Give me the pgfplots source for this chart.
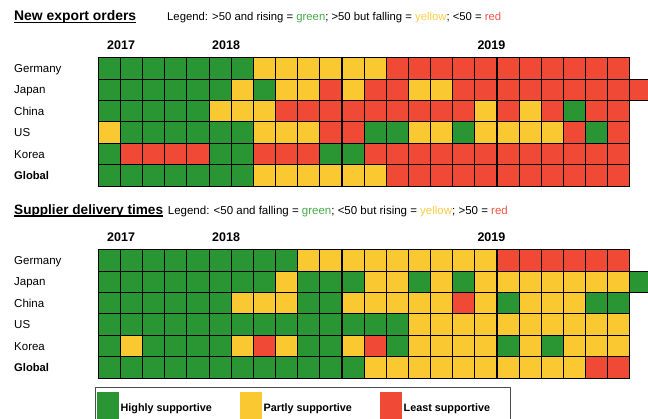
\documentclass[border=0pt]{standalone}
\usepackage{pgfplots}
\pgfplotsset{compat=1.18}
\usepackage{pgfplotstable}
\usepackage{fontspec}
\setmainfont{Liberation Sans}
\definecolor{cg}{RGB}{41,150,51}
\definecolor{cy}{RGB}{250,201,50}
\definecolor{cr}{RGB}{240,73,53}
\definecolor{tg}{RGB}{70,170,70}
\definecolor{ty}{RGB}{250,205,70}
\definecolor{tr}{RGB}{240,85,70}
\pgfdeclareplotmark{cell}{\pgfpathrectangle{\pgfqpoint{-11.075pt}{-10.7pt}}{\pgfqpoint{22.15pt}{21.4pt}}\pgfusepathqfillstroke}
\newcommand\ttl[1]{\setbox0\hbox{#1}\rlap{\rule[-2.3pt]{\wd0}{1.3pt}}\box0}
\tikzset{
  lab/.style={anchor=base west, inner sep=0pt, font=\fontsize{11.5}{13}\selectfont},
  yrlab/.style={anchor=base west, inner sep=0pt, font=\bfseries\fontsize{12.5}{14}\selectfont},
  glab/.style={anchor=base west, inner sep=0pt, font=\bfseries\fontsize{11.2}{13}\selectfont},
}

% New export orders: g = >50 and rising, y = >50 but falling, r = <50
\pgfplotstableread{
col Germany Japan China US Korea Global
0  g g g y g g
1  g g g g r g
2  g g g g r g
3  g g g g r g
4  g g g g r g
5  g g y g g g
6  g y y g g g
7  y g y y r y
8  y y r y r y
9  y y r y r y
10 y r r r g y
11 y y r r g y
12 y r r g r y
13 r r r g r r
14 r y r y r r
15 r y r y r r
16 r r r g r r
17 r r y y r r
18 r r r y r r
19 r r y y r r
20 r r r y r r
21 r r g r r r
22 r r r g r r
23 r r r r r r
}\exporttab

% Supplier delivery times: g = <50 and falling, y = <50 but rising, r = >50
\pgfplotstableread{
col Germany Japan China US Korea Global
0  g g g g g g
1  g g g g y g
2  g g g g g g
3  g g g g g g
4  g g g g g g
5  g g g g g g
6  g g y g y g
7  g g y g r g
8  g y y g y g
9  y g g g g g
10 y g g g g g
11 y g y g y g
12 y y y g r y
13 y y y g g y
14 y g y y y y
15 y y y y y y
16 y g r y y y
17 y y y y y y
18 r y g y g y
19 r y y y y y
20 r y y y g y
21 r y y y y y
22 r y g y y r
23 r y g y y r
}\supplytab

\pgfplotstableread{
col c
24 r
}\exportextra
\pgfplotstableread{
col c
24 g
}\supplyextra

\begin{document}
\begin{tikzpicture}
\useasboundingbox (0,0) rectangle (648pt,418pt);
\begin{axis}[at={(0,0)}, anchor=south west, scale only axis,
  width=648pt, height=418pt, xmin=0, xmax=648, ymin=0, ymax=418,
  y dir=reverse, hide axis, clip=false,
  scatter/classes={
    g={mark=cell, fill=cg, draw=black, line width=1.1pt},
    y={mark=cell, fill=cy, draw=black, line width=1.1pt},
    r={mark=cell, fill=cr, draw=black, line width=1.1pt}},
  cells/.style={scatter, only marks, scatter src=explicit symbolic, forget plot},
  yr/.style={black, line width=2.6pt, forget plot},
  legend style={at={(axis cs:94.7,387)}, anchor=north west, draw=black!70,
    line width=0.9pt, fill=white, legend columns=3, inner xsep=2.2pt, inner ysep=4.6pt,
    font=\bfseries\fontsize{10.8}{12}\selectfont,
    /tikz/every even column/.append style={column sep=26.5pt}},
  legend cell align=left,
]
% ---- New export orders ----
\addplot[cells] table[x expr={98.3+22.15*(\thisrow{col}+0.5)}, y expr={68.4}, meta=Germany] {\exporttab};
\addplot[cells] table[x expr={98.3+22.15*(\thisrow{col}+0.5)}, y expr={89.8}, meta=Japan] {\exporttab};
\addplot[cells] table[x expr={98.3+22.15*(\thisrow{col}+0.5)}, y expr={89.8}, meta=c] {\exportextra};
\addplot[cells] table[x expr={98.3+22.15*(\thisrow{col}+0.5)}, y expr={111.2}, meta=China] {\exporttab};
\addplot[cells] table[x expr={98.3+22.15*(\thisrow{col}+0.5)}, y expr={132.6}, meta=US] {\exporttab};
\addplot[cells] table[x expr={98.3+22.15*(\thisrow{col}+0.5)}, y expr={154.0}, meta=Korea] {\exporttab};
\addplot[cells] table[x expr={98.3+22.15*(\thisrow{col}+0.5)}, y expr={175.4}, meta=Global] {\exporttab};
\addplot[yr] coordinates {(209.05,57.7) (209.05,186.1)};
\addplot[yr] coordinates {(474.85,57.7) (474.85,186.1)};
% ---- Supplier delivery times ----
\addplot[cells] table[x expr={98.3+22.15*(\thisrow{col}+0.5)}, y expr={260.4}, meta=Germany] {\supplytab};
\addplot[cells] table[x expr={98.3+22.15*(\thisrow{col}+0.5)}, y expr={281.8}, meta=Japan] {\supplytab};
\addplot[cells] table[x expr={98.3+22.15*(\thisrow{col}+0.5)}, y expr={281.8}, meta=c] {\supplyextra};
\addplot[cells] table[x expr={98.3+22.15*(\thisrow{col}+0.5)}, y expr={303.2}, meta=China] {\supplytab};
\addplot[cells] table[x expr={98.3+22.15*(\thisrow{col}+0.5)}, y expr={324.6}, meta=US] {\supplytab};
\addplot[cells] table[x expr={98.3+22.15*(\thisrow{col}+0.5)}, y expr={346.0}, meta=Korea] {\supplytab};
\addplot[cells] table[x expr={98.3+22.15*(\thisrow{col}+0.5)}, y expr={367.4}, meta=Global] {\supplytab};
\addplot[yr] coordinates {(209.05,249.7) (209.05,378.1)};
\addplot[yr] coordinates {(474.85,249.7) (474.85,378.1)};

% ---- legend ----
\addlegendimage{legend image code/.code={\fill[cg] (0pt,-17pt) rectangle (20.4pt,9pt);}}
\addlegendentry{Highly supportive}
\addlegendimage{legend image code/.code={\fill[cy] (0pt,-17pt) rectangle (20.4pt,9pt);}}
\addlegendentry{Partly supportive}
\addlegendimage{legend image code/.code={\fill[cr] (0pt,-17pt) rectangle (20.4pt,9pt);}}
\addlegendentry{Least supportive\kern16pt}

% ---- titles ----
\node[anchor=base west, inner sep=0pt, font=\bfseries\fontsize{13.9}{16}\selectfont] at (axis cs:14,20.7) {\ttl{New export orders}};
\node[lab, font=\fontsize{11.3}{13}\selectfont] at (axis cs:167,20.7) {Legend: >50 and rising = \textcolor{tg}{green}; >50 but falling = \textcolor{ty}{yellow}; <50 = \textcolor{tr}{red}};
\node[anchor=base west, inner sep=0pt, font=\bfseries\fontsize{13.6}{16}\selectfont] at (axis cs:14,214.3) {\ttl{Supplier delivery times}};
\node[lab, font=\fontsize{11.5}{13}\selectfont] at (axis cs:167.7,214.3) {Legend: <50 and falling = \textcolor{tg}{green}; <50 but rising = \textcolor{ty}{yellow}; >50 = \textcolor{tr}{red}};

% ---- years ----
\node[yrlab] at (axis cs:107,49) {2017};
\node[yrlab] at (axis cs:212,49) {2018};
\node[yrlab] at (axis cs:477.3,49) {2019};
\node[yrlab] at (axis cs:107,241.7) {2017};
\node[yrlab] at (axis cs:212,241.7) {2018};
\node[yrlab] at (axis cs:477.3,241.7) {2019};

% ---- row labels ----
\node[lab] at (axis cs:14,72.5) {Germany};
\node[lab] at (axis cs:14,93.9) {Japan};
\node[lab] at (axis cs:14,115.3) {China};
\node[lab] at (axis cs:14,136.7) {US};
\node[lab] at (axis cs:14,158.1) {Korea};
\node[glab] at (axis cs:14,179.5) {Global};
\node[lab] at (axis cs:14,264.5) {Germany};
\node[lab] at (axis cs:14,285.9) {Japan};
\node[lab] at (axis cs:14,307.3) {China};
\node[lab] at (axis cs:14,328.7) {US};
\node[lab] at (axis cs:14,350.1) {Korea};
\node[glab] at (axis cs:14,371.5) {Global};
\end{axis}
\end{tikzpicture}
\end{document}
